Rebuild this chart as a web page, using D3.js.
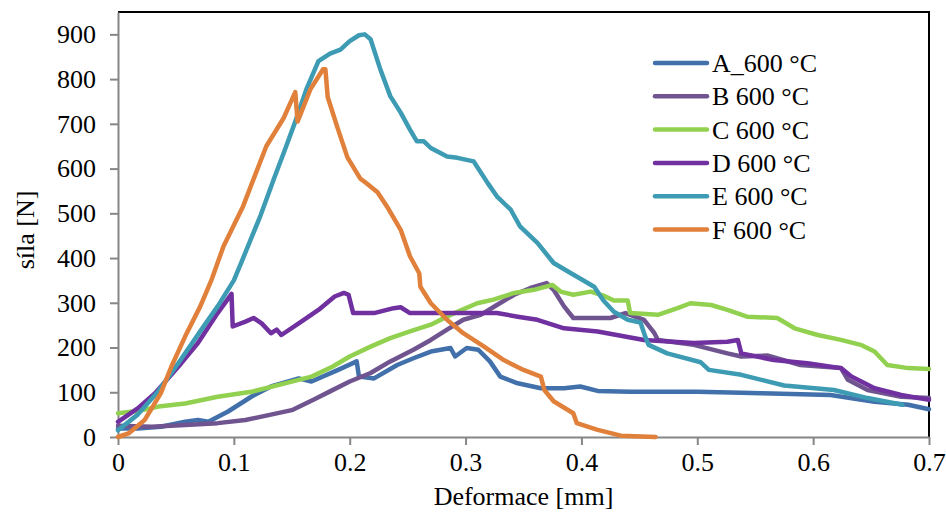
<!DOCTYPE html>
<meta charset="utf-8">
<script src="https://d3js.org/d3.v7.min.js"></script>
<style>
  body { margin: 0; background: #fff; }
  text { font-family: "Liberation Serif", "Times New Roman", serif; fill: #000; }
</style>
<div id="chart"></div>
<script>
  // series names and colours
  const names = ["A_600 °C", "B 600 °C", "C 600 °C", "D 600 °C", "E 600 °C", "F 600 °C"];
  const colors = ["#4170AB", "#6F548F", "#92D14F", "#7030A0", "#3D9BB3", "#E0803A"];

  const xTicks = [0, 0.1, 0.2, 0.3, 0.4, 0.5, 0.6, 0.7];
  const yTicks = [0, 100, 200, 300, 400, 500, 600, 700, 800, 900];

  // [deformace mm, sila N]
  const seriesA = [[0,19],[0.017,19],[0.037,23],[0.058,34],[0.069,38],[0.078,34],[0.095,57],[0.115,90],[0.132,113],[0.156,131],[0.167,124],[0.190,150],[0.206,169],[0.208,135],[0.221,131],[0.241,161],[0.255,176],[0.270,191],[0.287,199],[0.291,180],[0.301,199],[0.311,195],[0.321,169],[0.330,135],[0.345,120],[0.365,109],[0.385,109],[0.399,113],[0.414,103],[0.442,101],[0.468,101],[0.500,101],[0.538,99],[0.555,98],[0.615,94],[0.653,79],[0.682,72],[0.700,62]];
  const seriesB = [[0,25],[0.029,23],[0.058,27],[0.086,31],[0.110,38],[0.130,49],[0.150,60],[0.170,85],[0.183,102],[0.200,124],[0.218,143],[0.235,169],[0.255,195],[0.270,217],[0.284,240],[0.298,262],[0.313,273],[0.327,295],[0.342,318],[0.356,333],[0.370,344],[0.376,329],[0.385,292],[0.393,266],[0.414,266],[0.425,266],[0.438,277],[0.454,262],[0.463,232],[0.466,217],[0.497,206],[0.526,187],[0.538,180],[0.561,182],[0.589,161],[0.624,154],[0.630,128],[0.647,105],[0.676,90],[0.700,87]];
  const seriesC = [[0,53],[0.017,58],[0.035,68],[0.058,75],[0.086,90],[0.115,101],[0.144,120],[0.167,135],[0.185,157],[0.200,180],[0.218,202],[0.235,221],[0.252,236],[0.270,251],[0.287,273],[0.310,299],[0.324,307],[0.342,322],[0.359,329],[0.375,340],[0.382,325],[0.393,318],[0.408,325],[0.419,316],[0.428,305],[0.440,305],[0.442,277],[0.466,273],[0.483,288],[0.494,299],[0.512,295],[0.526,284],[0.543,269],[0.569,266],[0.584,243],[0.604,228],[0.624,217],[0.641,206],[0.653,191],[0.664,161],[0.682,154],[0.700,152]];
  const seriesD = [[0,34],[0.017,64],[0.032,98],[0.052,157],[0.069,210],[0.086,277],[0.098,320],[0.099,247],[0.110,258],[0.117,266],[0.124,254],[0.132,232],[0.137,240],[0.141,228],[0.156,254],[0.173,284],[0.187,314],[0.195,322],[0.199,318],[0.203,277],[0.221,277],[0.238,288],[0.244,290],[0.252,277],[0.298,277],[0.327,277],[0.345,269],[0.362,262],[0.385,243],[0.414,236],[0.454,217],[0.497,210],[0.526,213],[0.535,217],[0.538,187],[0.566,172],[0.595,165],[0.624,154],[0.633,135],[0.653,109],[0.676,94],[0.700,83]];
  const seriesE = [[0,15],[0.017,50],[0.035,103],[0.052,165],[0.072,240],[0.086,292],[0.100,350],[0.108,400],[0.123,495],[0.135,580],[0.143,635],[0.153,705],[0.163,780],[0.173,840],[0.183,857],[0.192,866],[0.200,885],[0.208,898],[0.213,900],[0.218,889],[0.226,825],[0.235,762],[0.244,725],[0.252,687],[0.258,661],[0.264,661],[0.270,646],[0.284,627],[0.293,624],[0.307,616],[0.319,568],[0.327,538],[0.339,508],[0.347,471],[0.362,434],[0.376,389],[0.391,366],[0.411,336],[0.419,305],[0.428,280],[0.440,262],[0.451,256],[0.455,225],[0.458,206],[0.474,187],[0.503,167],[0.510,150],[0.538,139],[0.575,115],[0.618,105],[0.647,87],[0.677,72]];
  const seriesF = [[0,0],[0.009,8],[0.023,38],[0.037,98],[0.046,157],[0.058,225],[0.071,292],[0.081,353],[0.091,426],[0.108,516],[0.128,650],[0.143,713],[0.153,771],[0.155,705],[0.166,777],[0.177,822],[0.179,822],[0.181,760],[0.189,695],[0.198,625],[0.209,578],[0.215,566],[0.224,547],[0.232,516],[0.244,463],[0.252,404],[0.260,366],[0.261,336],[0.270,299],[0.284,262],[0.298,232],[0.316,202],[0.333,172],[0.350,150],[0.365,135],[0.368,105],[0.376,80],[0.393,53],[0.396,31],[0.414,16],[0.434,3],[0.464,0]];

  const allSeries = [seriesA, seriesB, seriesC, seriesD, seriesE, seriesF];

  // dimensions
  const W = 946, H = 513;
  const margin = { top: 12, right: 17, bottom: 76, left: 118 },
    width = W - margin.left - margin.right,
    height = H - margin.top - margin.bottom;

  const svg = d3.select("#chart")
    .append("svg")
    .attr("width", W)
    .attr("height", H);

  const g = svg.append("g")
    .attr("transform", `translate(${margin.left},${margin.top})`);

  const x = d3.scaleLinear().domain([0, 0.7]).range([0, width]);
  const y = d3.scaleLinear().domain([0, 950]).range([height, 0]);

  // plot frame (top and right are black)
  g.append("path")
    .attr("d", `M0,0H${width}V${height}`)
    .attr("fill", "none")
    .attr("stroke", "#000")
    .attr("stroke-width", 2);

  // axes
  const xAxis = g.append("g")
    .attr("transform", `translate(0,${height})`)
    .call(d3.axisBottom(x).tickValues(xTicks).tickSize(8).tickSizeOuter(0).tickPadding(8)
      .tickFormat(d => d === 0 ? "0" : d3.format(".1f")(d)));
  const yAxis = g.append("g")
    .call(d3.axisLeft(y).tickValues(yTicks).tickSize(8).tickSizeOuter(0).tickPadding(14));

  [xAxis, yAxis].forEach(a => {
    a.select(".domain").attr("stroke", "#868686").attr("stroke-width", 2);
    a.selectAll(".tick line").attr("stroke", "#868686").attr("stroke-width", 2);
    a.selectAll("text").attr("font-size", 26).attr("font-family", "Liberation Serif");
  });

  // lines
  const line = d3.line()
    .x(d => x(d[0]))
    .y(d => y(d[1]));

  g.selectAll(".series")
    .data(allSeries)
    .join("path")
    .attr("class", "series")
    .attr("fill", "none")
    .attr("stroke", (d, i) => colors[i])
    .attr("stroke-width", 4.5)
    .attr("stroke-linejoin", "round")
    .attr("stroke-linecap", "round")
    .attr("d", line);

  // axis titles
  svg.append("text")
    .attr("x", margin.left + width / 2)
    .attr("y", 505)
    .attr("text-anchor", "middle")
    .attr("font-size", 26)
    .text("Deformace [mm]");

  svg.append("text")
    .attr("transform", "translate(34,230) rotate(-90)")
    .attr("text-anchor", "middle")
    .attr("font-size", 26)
    .text("síla [N]");

  // legend
  const legend = svg.append("g").attr("transform", "translate(655,63)");
  const item = legend.selectAll("g")
    .data(names)
    .join("g")
    .attr("transform", (d, i) => `translate(0,${i * 33.3})`);
  item.append("line")
    .attr("x1", 0).attr("x2", 52)
    .attr("stroke", (d, i) => colors[i])
    .attr("stroke-width", 4.5)
    .attr("stroke-linecap", "round");
  item.append("text")
    .attr("x", 57)
    .attr("dy", "0.35em")
    .attr("font-size", 26)
    .text(d => d);
</script>
